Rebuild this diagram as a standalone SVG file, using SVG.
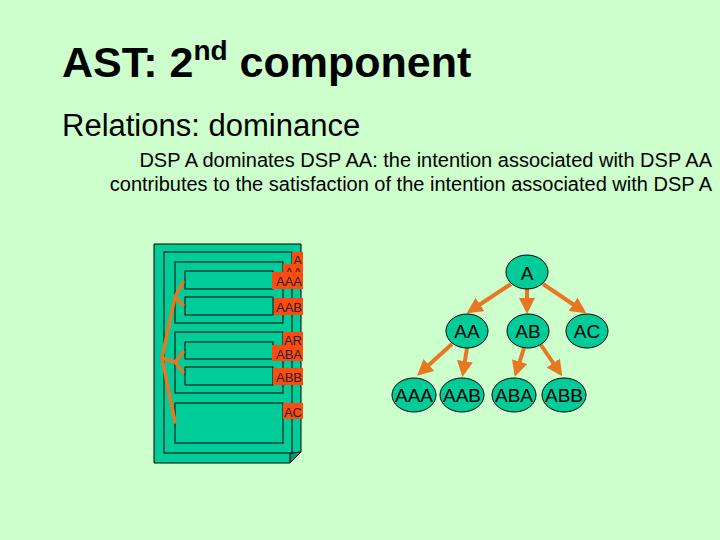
<svg xmlns="http://www.w3.org/2000/svg" width="720" height="540" viewBox="0 0 720 540">
<style>
text{font-family:"Liberation Sans",Arial,sans-serif;fill:#000}
.box{fill:#00cc99;stroke:#000;stroke-width:1}
.lab{fill:#ff4a10}
.lt{font-size:13px;fill:#222;text-anchor:end}
.br{fill:none;stroke:#e87722;stroke-width:3.5;stroke-linecap:round}
.n{fill:#00cc99;stroke:#000;stroke-width:1}
.nt{font-size:19px;text-anchor:middle}
.e{stroke:#e87722;stroke-width:4;marker-end:url(#ah)}
</style>
<defs>
<marker id="ah" markerWidth="4" markerHeight="4" refX="3" refY="2" orient="auto"><path d="M0,0L4,2L0,4z" fill="#e87722"/></marker>
</defs>
<rect width="720" height="540" fill="#ccffcc"/>
<text x="62" y="77" font-size="43" font-weight="bold">AST: 2<tspan font-size="28" dy="-17">nd</tspan><tspan dy="17"> component</tspan></text>
<text x="62" y="136" font-size="31">Relations: dominance</text>
<text x="712" y="167" font-size="20" text-anchor="end">DSP A dominates DSP AA: the intention associated with DSP AA</text>
<text x="712" y="191" font-size="20" text-anchor="end">contributes to the satisfaction of the intention associated with DSP A</text>
<g id="stack">
<polygon class="box" points="154,244 301,244 301,452 290,463 154,463"/>
<polygon points="290,463 290,453 301,452" fill="#009977" stroke="#000" stroke-width="1"/>
<rect class="box" x="164" y="252" width="128" height="201"/>
<rect class="box" x="175" y="262" width="108" height="61"/>
<rect class="box" x="185" y="271" width="88" height="18"/>
<rect class="box" x="185" y="297" width="88" height="18"/>
<rect class="box" x="175" y="332" width="108" height="61"/>
<rect class="box" x="185" y="342" width="88" height="17"/>
<rect class="box" x="185" y="367" width="88" height="18"/>
<rect class="box" x="175" y="403" width="108" height="40"/>
<rect class="lab" x="292" y="252" width="11" height="15"/><text class="lt" x="302" y="265">A</text>
<rect class="lab" x="283" y="264" width="20" height="8"/><text class="lt" x="302" y="277">AA</text>
<rect class="lab" x="272" y="272" width="31" height="17"/><text class="lt" x="302" y="286">AAA</text>
<rect class="lab" x="274" y="298" width="29" height="17"/><text class="lt" x="302" y="312">AAB</text>
<rect class="lab" x="283" y="332" width="20" height="13"/><text class="lt" x="302" y="345">AR</text>
<rect class="lab" x="272" y="345" width="31" height="16"/><text class="lt" x="302" y="359">ABA</text>
<rect class="lab" x="273" y="368" width="30" height="17"/><text class="lt" x="302" y="382">ABB</text>
<rect class="lab" x="283" y="403" width="20" height="16"/><text class="lt" x="302" y="417">AC</text>
<path class="br" d="M175,422 L162,358 L175,297 L183,282 M175,297 L183,305 M162,358 L175,362 L183,352 M175,362 L183,372"/>
</g>
<g id="connectors">
<line class="e" x1="511" y1="284" x2="470" y2="311"/>
<line class="e" x1="527" y1="289" x2="527" y2="310"/>
<line class="e" x1="543" y1="284" x2="583" y2="311"/>
<line class="e" x1="452" y1="344" x2="420" y2="373"/>
<line class="e" x1="467" y1="348" x2="463" y2="373"/>
<line class="e" x1="524" y1="348" x2="516" y2="373"/>
<line class="e" x1="541" y1="345" x2="560" y2="373"/>
</g>
<g id="nA"><ellipse class="n" cx="527" cy="272" rx="21" ry="17"/><text class="nt" x="527" y="280" font-size="22">A</text></g>
<g id="nAA"><ellipse class="n" cx="467" cy="331" rx="21" ry="17"/><text class="nt" x="467" y="338">AA</text></g>
<g id="nAB"><ellipse class="n" cx="528" cy="331" rx="21" ry="17"/><text class="nt" x="528" y="338">AB</text></g>
<g id="nAC"><ellipse class="n" cx="587" cy="331" rx="21" ry="17"/><text class="nt" x="587" y="338">AC</text></g>
<g id="nAAA"><ellipse class="n" cx="414" cy="395" rx="22" ry="17"/><text class="nt" x="414" y="402" font-size="17">AAA</text></g>
<g id="nAAB"><ellipse class="n" cx="462" cy="395" rx="22" ry="17"/><text class="nt" x="462" y="402" font-size="17">AAB</text></g>
<g id="nABA"><ellipse class="n" cx="514" cy="395" rx="22" ry="17"/><text class="nt" x="514" y="402" font-size="17">ABA</text></g>
<g id="nABB"><ellipse class="n" cx="564" cy="395" rx="22" ry="17"/><text class="nt" x="564" y="402" font-size="17">ABB</text></g>
</svg>
